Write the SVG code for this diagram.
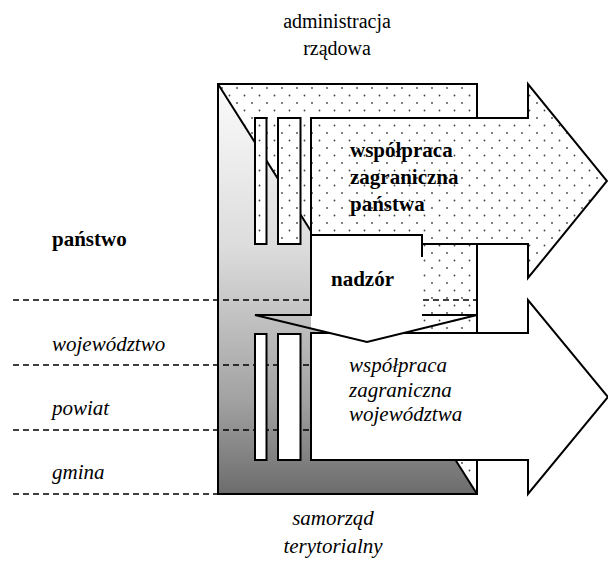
<svg xmlns="http://www.w3.org/2000/svg" width="608" height="561" viewBox="0 0 608 561">
<style>
.ol{stroke:#000;stroke-width:2;stroke-linejoin:miter}
.dash{stroke:#000;stroke-width:1.5;stroke-dasharray:6 4;fill:none}
text{font-family:"Times New Roman","Liberation Serif",Tinos,"DejaVu Serif",serif;fill:#000}
.b{font-weight:bold;font-size:21px}
.i{font-style:italic;font-size:21px}
.r{font-size:20px}
</style>
<defs>
<pattern id="dots" width="15" height="15" patternUnits="userSpaceOnUse" x="218" y="84">
<rect width="15" height="15" fill="#fff"/>
<circle cx="4" cy="4" r="0.9" fill="#444"/>
<circle cx="11.5" cy="11.5" r="0.9" fill="#444"/>
</pattern>
<linearGradient id="gr" gradientUnits="userSpaceOnUse" x1="0" y1="84" x2="0" y2="494">
<stop offset="0" stop-color="#fbfbfb"/>
<stop offset="0.4" stop-color="#dcdcdc"/>
<stop offset="0.77" stop-color="#a2a2a2"/>
<stop offset="1" stop-color="#6c6c6c"/>
</linearGradient>
</defs>
<rect width="608" height="561" fill="#fff"/>

<g id="background">
<rect x="218" y="84" width="259" height="410" fill="url(#dots)"/>
<polygon points="218,84 477,494 218,494" fill="url(#gr)"/>
<line x1="218" y1="84" x2="477" y2="494" class="ol"/>
<rect x="218" y="84" width="259" height="410" fill="none" class="ol"/>
</g>

<g id="levels">
<line x1="13" y1="300" x2="477" y2="300" class="dash"/>
<line x1="13" y1="365" x2="477" y2="365" class="dash"/>
<line x1="13" y1="430" x2="477" y2="430" class="dash"/>
<line x1="13" y1="494" x2="477" y2="494" class="dash"/>
</g>

<g id="arrow-panstwo">
<polygon points="311,118 528,118 528,84 607,181 528,278 528,244 311,244" fill="url(#dots)" class="ol"/>
</g>

<g id="arrow-wojewodztwo">
<polygon points="311,333 528,333 528,300 608,397 528,494 528,460 311,460" fill="#fff" class="ol"/>
</g>

<g id="bars">
<rect x="255" y="118" width="11.5" height="126" fill="url(#dots)" class="ol"/>
<rect x="278" y="118" width="22.5" height="126" fill="url(#dots)" class="ol"/>
<rect x="255" y="334" width="11.5" height="126" fill="#fff" class="ol"/>
<rect x="278" y="334" width="22.5" height="126" fill="#fff" class="ol"/>
</g>

<g id="nadzor">
<polygon points="311,235 422,235 422,328.5 367,342 311,328.5" fill="#fff"/>
<path d="M311,235 H422 V257 M311,235 V315 H255 L367,342 L477,315 H422" fill="none" class="ol"/>
<text class="b" x="331" y="286">nadzór</text>
</g>

<g id="labels">
<text class="r" text-anchor="middle" x="337" y="28">administracja</text>
<text class="r" text-anchor="middle" x="337" y="55">rządowa</text>
<text class="b" x="350" y="157">współpraca</text>
<text class="b" x="350" y="184">zagraniczna</text>
<text class="b" x="350" y="211">państwa</text>
<text class="b" x="52" y="246">państwo</text>
<text class="i" x="52" y="351">województwo</text>
<text class="i" x="52" y="415">powiat</text>
<text class="i" x="52" y="479">gmina</text>
<text class="i" x="349" y="372">współpraca</text>
<text class="i" x="349" y="396.5">zagraniczna</text>
<text class="i" x="349" y="421">województwa</text>
<text class="i" text-anchor="middle" x="333" y="525">samorząd</text>
<text class="i" text-anchor="middle" x="333" y="553">terytorialny</text>
</g>
</svg>
